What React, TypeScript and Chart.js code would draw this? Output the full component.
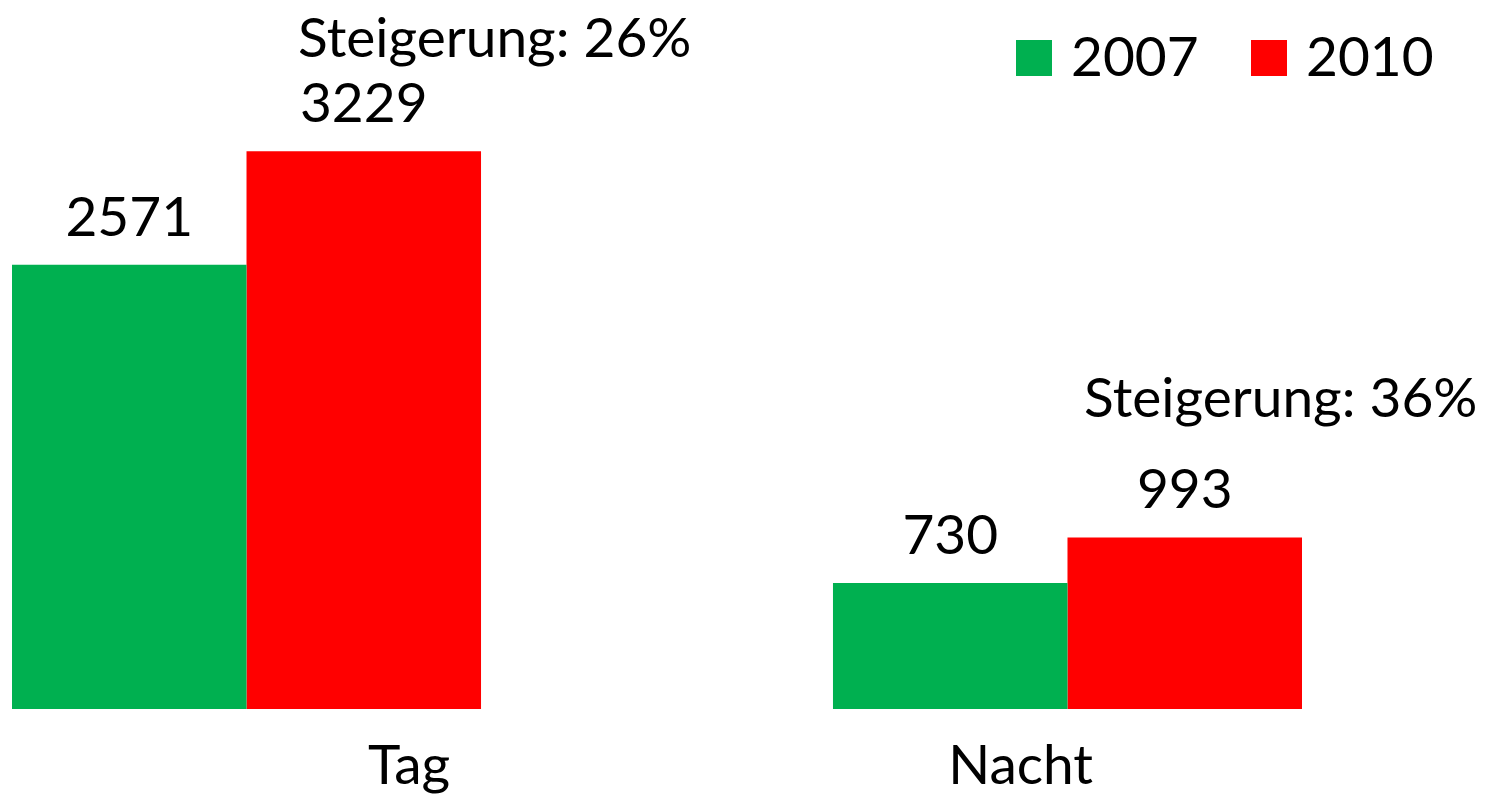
import React, { useEffect, useRef } from 'react';
import { Chart, registerables } from 'chart.js';

Chart.register(...registerables);

// ---- data ----
const categories = ['Tag', 'Nacht'];
const seriesNames = ['2007', '2010'];
const values2007 = [2571, 730];
const values2010 = [3229, 993];
const increaseLabels = ['Steigerung: 26%', 'Steigerung: 36%'];
const seriesColors = ['#00B050', '#FF0000'];

// ---- style ----
const FONT = 'Lato, "Open Sans", sans-serif';
const FONT_SIZE = 55;
const GROUP_SHARE = 0.5713; // share of the category pitch filled by the bar pair
const LABEL_SHIFT = [0.198, -0.057]; // category label offset, in category pitches
const VALUE_GAP = 29;
const INCREASE_OFFSET = [
  [131, 94],
  [96, 120],
];
const LEGEND = { x: 1016, y: 40, box: 36, gap: 19, step: 235 };

const annotationPlugin = {
  id: 'annotations',
  afterDatasetsDraw(chart: any) {
    const ctx = chart.ctx;
    ctx.save();
    ctx.font = `${FONT_SIZE}px ${FONT}`;
    ctx.fillStyle = '#000';
    ctx.textAlign = 'center';
    ctx.textBaseline = 'alphabetic';
    chart.data.datasets.forEach((ds: any, di: number) => {
      const meta = chart.getDatasetMeta(di);
      meta.data.forEach((el: any, i: number) => {
        ctx.fillText(String(ds.data[i].y), el.x, el.y - VALUE_GAP);
      });
    });
    const meta2010 = chart.getDatasetMeta(1);
    meta2010.data.forEach((el: any, i: number) => {
      const [dx, dy] = INCREASE_OFFSET[i];
      ctx.fillText(increaseLabels[i], el.x + dx, el.y - dy);
    });
    // legend
    ctx.textAlign = 'left';
    chart.data.datasets.forEach((ds: any, di: number) => {
      const x0 = LEGEND.x + di * LEGEND.step;
      ctx.fillStyle = ds.backgroundColor;
      ctx.fillRect(x0, LEGEND.y, LEGEND.box, LEGEND.box);
      ctx.fillStyle = '#000';
      ctx.fillText(ds.label, x0 + LEGEND.box + LEGEND.gap, LEGEND.y + LEGEND.box);
    });
    ctx.restore();
  },
};

function App() {
  const canvasRef = useRef<HTMLCanvasElement | null>(null);

  useEffect(() => {
    const prevMargin = document.body.style.margin;
    document.body.style.margin = '0';
    const canvas = canvasRef.current;
    if (!canvas) return;
    const seriesValues = [values2007, values2010];
    const chart = new Chart(canvas, {
      type: 'bar',
      data: {
        datasets: seriesNames.map((name, si) => ({
          label: name,
          data: categories.map((_, ci) => ({ x: ci, y: seriesValues[si][ci] })),
          backgroundColor: seriesColors[si],
          borderWidth: 0,
          categoryPercentage: GROUP_SHARE,
          barPercentage: 1,
          xAxisID: 'x',
        })),
      },
      options: {
        animation: false,
        responsive: true,
        maintainAspectRatio: false,
        color: '#000',
        layout: { padding: { top: 18, left: 12, right: 210, bottom: -19 } },
        plugins: {
          legend: { display: false },
          tooltip: { enabled: false },
        },
        scales: {
          x: {
            type: 'linear',
            display: false,
            offset: false,
            min: -GROUP_SHARE / 2,
            max: categories.length - 1 + GROUP_SHARE / 2,
            afterBuildTicks: (axis: any) => {
              axis.ticks = categories.map((_, i) => ({ value: i }));
            },
          },
          x2: {
            type: 'linear',
            position: 'bottom',
            offset: false,
            min: -GROUP_SHARE / 2,
            max: categories.length - 1 + GROUP_SHARE / 2,
            grid: { display: false, drawTicks: false },
            border: { display: false },
            afterBuildTicks: (axis: any) => {
              axis.ticks = categories.map((_, i) => ({ value: i + LABEL_SHIFT[i] }));
            },
            ticks: {
              padding: 24,
              color: '#000',
              autoSkip: false,
              maxRotation: 0,
              font: { family: FONT, size: FONT_SIZE },
              callback: (_v: any, index: number) => categories[index],
            },
          },
          y: {
            display: false,
            min: 0,
            max: 4000,
          },
        },
      },
      plugins: [annotationPlugin],
    } as any);
    return () => {
      chart.destroy();
      document.body.style.margin = prevMargin;
    };
  }, []);

  return (
    <div style={{ position: 'fixed', left: 0, top: 0, width: '1512px', height: '804px', background: '#fff' }}>
      <canvas ref={canvasRef} />
    </div>
  );
}

export default App;
